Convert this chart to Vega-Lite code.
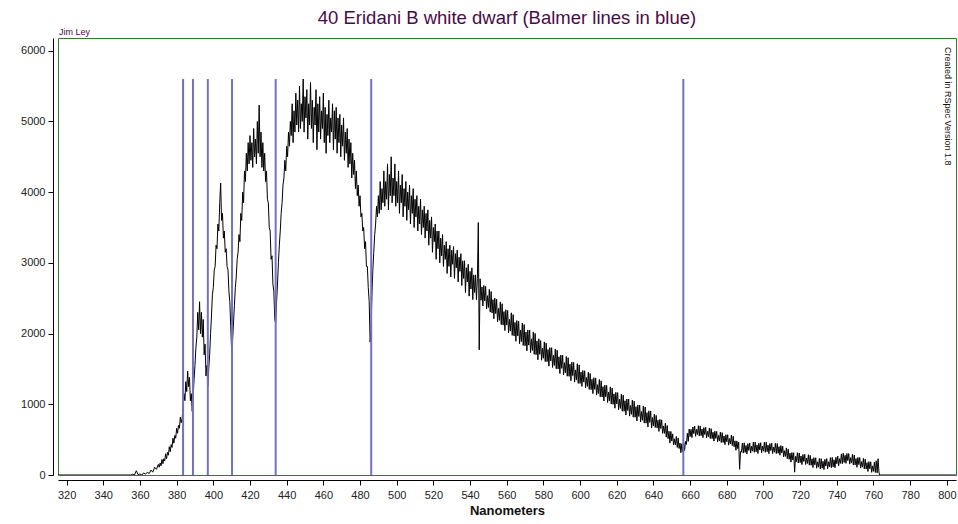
{
"$schema": "https://vega.github.io/schema/vega-lite/v6.json",
"width": 898, "height": 437,
"autosize": {"type": "none"},
"padding": {"left": 58, "top": 38, "right": 2, "bottom": 49},
"background": "white",
"title": {"text": "40 Eridani B white dwarf (Balmer lines in blue)", "font": "Liberation Sans", "fontSize": 18.5, "fontWeight": "normal", "color": "#4a0a48", "offset": 1, "anchor": "middle"},
"config": {
  "view": {"stroke": "#2f7a2f", "strokeWidth": 1},
  "axis": {"labelFont": "Liberation Sans", "labelFontSize": 11, "labelColor": "#222222", "domainColor": "#000000", "tickColor": "#000000", "tickSize": 5, "grid": false, "offset": 5, "titleFont": "Liberation Sans", "labelOverlap": false},
  "axisX": {"tickCount": 25, "labelOverlap": false, "labelSeparation": 0}
},
"datasets": {
"spec": [
{"nm":315,"f":0},{"nm":355,"f":0},{"nm":356,"f":10},{"nm":357,"f":0},{"nm":358,"f":60},{"nm":359,"f":5},{"nm":360,"f":15},{"nm":361,"f":0},{"nm":362,"f":30},{"nm":363,"f":10},{"nm":364,"f":40},{"nm":365,"f":20},{"nm":366,"f":70},{"nm":367,"f":40},{"nm":368,"f":110},{"nm":369,"f":80},
{"nm":370,"f":150},{"nm":370.5,"f":110},{"nm":371,"f":170},{"nm":371.5,"f":130},{"nm":372,"f":220},{"nm":372.5,"f":160},{"nm":373,"f":230},{"nm":373.5,"f":200},{"nm":374,"f":300},{"nm":374.5,"f":230},{"nm":375,"f":320},{"nm":375.5,"f":280},{"nm":376,"f":400},{"nm":376.5,"f":330},{"nm":377,"f":430},{"nm":377.5,"f":390},{"nm":378,"f":520},{"nm":378.5,"f":450},{"nm":379,"f":560},{"nm":379.5,"f":520},{"nm":380,"f":660},{"nm":380.5,"f":590},{"nm":381,"f":700},{"nm":381.5,"f":660},{"nm":382,"f":820},{"nm":382.5,"f":740},{"nm":383,"f":800},
{"nm":383.5,"f":980},{"nm":384,"f":1150},{"nm":384.5,"f":1050},{"nm":385,"f":1320},{"nm":385.5,"f":1180},{"nm":386,"f":1470},{"nm":386.5,"f":1250},{"nm":387,"f":1380},{"nm":387.5,"f":1050},{"nm":388,"f":1150},{"nm":388.5,"f":900},{"nm":389,"f":1100},{"nm":389.5,"f":1350},{"nm":390,"f":1550},{"nm":390.5,"f":1800},{"nm":391,"f":1950},{"nm":391.5,"f":2300},{"nm":392,"f":2050},{"nm":392.5,"f":2450},{"nm":393,"f":2000},{"nm":393.5,"f":2300},{"nm":394,"f":1950},{"nm":394.5,"f":2200},{"nm":395,"f":1700},{"nm":395.5,"f":1850},{"nm":396,"f":1400},{"nm":396.5,"f":1550},{"nm":397,"f":1250},{"nm":397.5,"f":1500},{"nm":398,"f":1700},{"nm":398.5,"f":2000},{"nm":399,"f":2250},{"nm":399.5,"f":2550},{"nm":400,"f":2650},{"nm":400.5,"f":2900},{"nm":401,"f":2950},{"nm":401.5,"f":3250},{"nm":402,"f":3200},{"nm":402.5,"f":3550},{"nm":403,"f":3450},{"nm":403.5,"f":3850},{"nm":404,"f":4130},{"nm":404.5,"f":3600},{"nm":405,"f":3700},{"nm":405.5,"f":3350},{"nm":406,"f":3450},{"nm":406.5,"f":3150},{"nm":407,"f":3200},{"nm":407.5,"f":2950},{"nm":408,"f":2900},{"nm":408.5,"f":2600},{"nm":409,"f":2450},{"nm":409.5,"f":2100},{"nm":410,"f":1750},{"nm":410.5,"f":1900},{"nm":411,"f":2150},{"nm":411.5,"f":2400},{"nm":412,"f":2650},{"nm":412.5,"f":2800},{"nm":413,"f":3050},{"nm":413.5,"f":3150},{"nm":414,"f":3400},{"nm":414.5,"f":3300},{"nm":415,"f":3700},{"nm":415.5,"f":3600},{"nm":416,"f":4000},{"nm":416.5,"f":3850},{"nm":417,"f":4300},{"nm":417.5,"f":4150},{"nm":418,"f":4550},{"nm":418.5,"f":4300},{"nm":419,"f":4700},{"nm":419.5,"f":4400},{"nm":420,"f":4800},{"nm":420.5,"f":4450},{"nm":421,"f":4700},{"nm":421.5,"f":4350},{"nm":422,"f":4900},{"nm":422.5,"f":4500},{"nm":423,"f":4750},{"nm":423.5,"f":4400},{"nm":424,"f":5000},{"nm":424.5,"f":4550},{"nm":425,"f":5230},{"nm":425.5,"f":4500},{"nm":426,"f":4850},{"nm":426.5,"f":4350},{"nm":427,"f":4700},{"nm":427.5,"f":4300},{"nm":428,"f":4550},{"nm":428.5,"f":4150},{"nm":429,"f":4300},{"nm":429.5,"f":3900},{"nm":430,"f":3850},{"nm":430.5,"f":3500},{"nm":431,"f":3450},{"nm":431.5,"f":3050},{"nm":432,"f":3100},{"nm":432.5,"f":2700},{"nm":433,"f":2600},{"nm":433.5,"f":2200},{"nm":434,"f":2150},{"nm":434.5,"f":2450},{"nm":435,"f":2700},{"nm":435.5,"f":3000},{"nm":436,"f":3250},{"nm":436.5,"f":3450},{"nm":437,"f":3700},{"nm":437.5,"f":3850},{"nm":438,"f":4100},{"nm":438.5,"f":4200},{"nm":439,"f":4450},{"nm":439.5,"f":4300},{"nm":440,"f":4650},{"nm":440.5,"f":4500},{"nm":441,"f":4850},{"nm":441.5,"f":4650},{"nm":442,"f":5000},{"nm":442.5,"f":4800},{"nm":443,"f":5250},{"nm":443.5,"f":4700},{"nm":444,"f":5150},{"nm":444.5,"f":4850},{"nm":445,"f":5400},{"nm":445.5,"f":4950},{"nm":446,"f":5300},{"nm":446.5,"f":4850},{"nm":447,"f":5500},{"nm":447.5,"f":4900},{"nm":448,"f":5250},{"nm":448.5,"f":5000},{"nm":449,"f":5600},{"nm":449.5,"f":4850},{"nm":450,"f":5350},{"nm":450.5,"f":5050},{"nm":451,"f":5450},{"nm":451.5,"f":4750},{"nm":452,"f":5250},{"nm":452.5,"f":4950},{"nm":453,"f":5550},{"nm":453.5,"f":4900},{"nm":454,"f":5300},{"nm":454.5,"f":4700},{"nm":455,"f":5200},{"nm":455.5,"f":4950},{"nm":456,"f":5450},{"nm":456.5,"f":4600},{"nm":457,"f":5250},{"nm":457.5,"f":4850},{"nm":458,"f":5350},{"nm":458.5,"f":4750},{"nm":459,"f":5150},{"nm":459.5,"f":4900},{"nm":460,"f":5400},{"nm":460.5,"f":4700},{"nm":461,"f":5200},{"nm":461.5,"f":4550},{"nm":462,"f":5100},{"nm":462.5,"f":4800},{"nm":463,"f":5300},{"nm":463.5,"f":4700},{"nm":464,"f":5050},{"nm":464.5,"f":4850},{"nm":465,"f":5250},{"nm":465.5,"f":4600},{"nm":466,"f":5150},{"nm":466.5,"f":4750},{"nm":467,"f":5200},{"nm":467.5,"f":4550},{"nm":468,"f":5050},{"nm":468.5,"f":4700},{"nm":469,"f":5100},{"nm":469.5,"f":4500},{"nm":470,"f":4950},{"nm":470.5,"f":4650},{"nm":471,"f":5050},{"nm":471.5,"f":4450},{"nm":472,"f":4850},{"nm":472.5,"f":4550},{"nm":473,"f":4900},{"nm":473.5,"f":4350},{"nm":474,"f":4750},{"nm":474.5,"f":4400},{"nm":475,"f":4700},{"nm":475.5,"f":4200},{"nm":476,"f":4550},{"nm":476.5,"f":4250},{"nm":477,"f":4450},{"nm":477.5,"f":4050},{"nm":478,"f":4300},{"nm":478.5,"f":3950},{"nm":479,"f":4100},{"nm":479.5,"f":3800},{"nm":480,"f":3950},{"nm":480.5,"f":3650},{"nm":481,"f":3700},{"nm":481.5,"f":3450},{"nm":482,"f":3500},{"nm":482.5,"f":3200},{"nm":483,"f":3300},{"nm":483.5,"f":2950},{"nm":484,"f":2950},{"nm":484.5,"f":2650},{"nm":485,"f":2450},{"nm":485.5,"f":1880},{"nm":486,"f":2050},{"nm":486.5,"f":2550},{"nm":487,"f":2900},{"nm":487.5,"f":3150},{"nm":488,"f":3400},{"nm":488.5,"f":3550},{"nm":489,"f":3800},{"nm":489.5,"f":3650},{"nm":490,"f":3950},{"nm":490.5,"f":3700},{"nm":491,"f":4150},{"nm":491.5,"f":3750},{"nm":492,"f":4050},{"nm":492.5,"f":3850},{"nm":493,"f":4300},{"nm":493.5,"f":3800},{"nm":494,"f":4150},{"nm":494.5,"f":3900},{"nm":495,"f":4400},{"nm":495.5,"f":3750},{"nm":496,"f":4250},{"nm":496.5,"f":3950},{"nm":497,"f":4500},{"nm":497.5,"f":3850},{"nm":498,"f":4200},{"nm":498.5,"f":3950},{"nm":499,"f":4400},{"nm":499.5,"f":3800},{"nm":500,"f":4150},{"nm":500.5,"f":3850},{"nm":501,"f":4300},{"nm":501.5,"f":3700},{"nm":502,"f":4100},{"nm":502.5,"f":3850},{"nm":503,"f":4250},{"nm":503.5,"f":3650},{"nm":504,"f":4050},{"nm":504.5,"f":3800},{"nm":505,"f":4150},{"nm":505.5,"f":3600},{"nm":506,"f":4000},{"nm":506.5,"f":3750},{"nm":507,"f":4100},{"nm":507.5,"f":3550},{"nm":508,"f":3950},{"nm":508.5,"f":3700},{"nm":509,"f":4050},{"nm":509.5,"f":3500},{"nm":510,"f":3900},{"nm":510.5,"f":3650},{"nm":511,"f":3950},{"nm":511.5,"f":3450},{"nm":512,"f":3800},{"nm":512.5,"f":3550},{"nm":513,"f":3900},{"nm":513.5,"f":3400},{"nm":514,"f":3750},{"nm":514.5,"f":3500},{"nm":515,"f":3800},{"nm":515.5,"f":3350},{"nm":516,"f":3700},{"nm":516.5,"f":3450},{"nm":517,"f":3750},{"nm":517.5,"f":3250},{"nm":518,"f":3600},{"nm":518.5,"f":3350},{"nm":519,"f":3650},{"nm":519.5,"f":3150},{"nm":520,"f":3500},{"nm":520.5,"f":3300},{"nm":521,"f":3550},{"nm":521.5,"f":3050},{"nm":522,"f":3450},{"nm":522.5,"f":3200},{"nm":523,"f":3450},{"nm":523.5,"f":3000},{"nm":524,"f":3350},{"nm":524.5,"f":3100},{"nm":525,"f":3400},{"nm":525.5,"f":2950},{"nm":526,"f":3250},{"nm":526.5,"f":3050},{"nm":527,"f":3300},{"nm":527.5,"f":2850},{"nm":528,"f":3200},{"nm":528.5,"f":2950},{"nm":529,"f":3250},{"nm":529.5,"f":2800},{"nm":530,"f":3180},{"nm":530.5,"f":2980},{"nm":531,"f":3230},{"nm":531.5,"f":2780},{"nm":532,"f":3130},{"nm":532.5,"f":2930},{"nm":533,"f":3180},{"nm":533.5,"f":2730},{"nm":534,"f":3080},{"nm":534.5,"f":2880},{"nm":535,"f":3130},{"nm":535.5,"f":2680},{"nm":536,"f":3030},{"nm":536.5,"f":2780},{"nm":537,"f":3030},{"nm":537.5,"f":2580},{"nm":538,"f":2930},{"nm":538.5,"f":2730},{"nm":539,"f":2980},{"nm":539.5,"f":2530},{"nm":540,"f":2880},{"nm":540.5,"f":2630},{"nm":541,"f":2930},{"nm":541.5,"f":2480},{"nm":542,"f":2830},{"nm":542.5,"f":2580},{"nm":543,"f":2830},{"nm":543.5,"f":2480},{"nm":544,"f":2780},{"nm":544.5,"f":3570},{"nm":545,"f":1770},
{"nm":545.5,"f":2775},{"nm":546,"f":2471},{"nm":546.5,"f":2660},{"nm":547,"f":2390},{"nm":547.5,"f":2681},{"nm":548,"f":2462},{"nm":548.5,"f":2668},{"nm":549,"f":2347},{"nm":549.5,"f":2536},{"nm":550,"f":2368},{"nm":550.5,"f":2625},{"nm":551,"f":2304},{"nm":551.5,"f":2595},{"nm":552,"f":2291},{"nm":552.5,"f":2480},{"nm":553,"f":2210},{"nm":553.5,"f":2501},{"nm":554,"f":2282},{"nm":554.5,"f":2488},{"nm":555,"f":2167},{"nm":555.5,"f":2356},{"nm":556,"f":2188},{"nm":556.5,"f":2447},{"nm":557,"f":2128},{"nm":557.5,"f":2422},{"nm":558,"f":2120},{"nm":558.5,"f":2311},{"nm":559,"f":2043},{"nm":559.5,"f":2337},{"nm":560,"f":2120},{"nm":560.5,"f":2328},{"nm":561,"f":2009},{"nm":561.5,"f":2201},{"nm":562,"f":2035},{"nm":562.5,"f":2294},{"nm":563,"f":1975},{"nm":563.5,"f":2269},{"nm":564,"f":1967},{"nm":564.5,"f":2158},{"nm":565,"f":1890},{"nm":565.5,"f":2184},{"nm":566,"f":1967},{"nm":566.5,"f":2175},{"nm":567,"f":1857},{"nm":567.5,"f":2051},{"nm":568,"f":1887},{"nm":568.5,"f":2148},{"nm":569,"f":1832},{"nm":569.5,"f":2128},{"nm":570,"f":1828},{"nm":570.5,"f":2022},{"nm":571,"f":1756},{"nm":571.5,"f":2052},{"nm":572,"f":1837},{"nm":572.5,"f":2048},{"nm":573,"f":1731},{"nm":573.5,"f":1925},{"nm":574,"f":1761},{"nm":574.5,"f":2023},{"nm":575,"f":1706},{"nm":575.5,"f":2002},{"nm":576,"f":1702},{"nm":576.5,"f":1896},{"nm":577,"f":1630},{"nm":577.5,"f":1926},{"nm":578,"f":1707},{"nm":578.5,"f":1902},{"nm":579,"f":1623},{"nm":579.5,"f":1795},{"nm":580,"f":1651},{"nm":580.5,"f":1883},{"nm":581,"f":1604},{"nm":581.5,"f":1866},{"nm":582,"f":1602},{"nm":582.5,"f":1774},{"nm":583,"f":1540},{"nm":583.5,"f":1802},{"nm":584,"f":1613},{"nm":584.5,"f":1800},{"nm":585,"f":1521},{"nm":585.5,"f":1693},{"nm":586,"f":1549},{"nm":586.5,"f":1781},{"nm":587,"f":1502},{"nm":587.5,"f":1764},{"nm":588,"f":1500},{"nm":588.5,"f":1672},{"nm":589,"f":1435},{"nm":589.5,"f":1697},{"nm":590,"f":1508},{"nm":590.5,"f":1695},{"nm":591,"f":1416},{"nm":591.5,"f":1588},{"nm":592,"f":1444},{"nm":592.5,"f":1676},{"nm":593,"f":1397},{"nm":593.5,"f":1659},{"nm":594,"f":1395},{"nm":594.5,"f":1567},{"nm":595,"f":1333},{"nm":595.5,"f":1595},{"nm":596,"f":1406},{"nm":596.5,"f":1593},{"nm":597,"f":1314},{"nm":597.5,"f":1486},{"nm":598,"f":1342},{"nm":598.5,"f":1574},{"nm":599,"f":1295},{"nm":599.5,"f":1557},{"nm":600,"f":1295},{"nm":600.5,"f":1456},{"nm":601,"f":1253},{"nm":601.5,"f":1478},{"nm":602,"f":1314},{"nm":602.5,"f":1474},{"nm":603,"f":1232},{"nm":603.5,"f":1379},{"nm":604,"f":1254},{"nm":604.5,"f":1453},{"nm":605,"f":1211},{"nm":605.5,"f":1436},{"nm":606,"f":1207},{"nm":606.5,"f":1354},{"nm":607,"f":1151},{"nm":607.5,"f":1376},{"nm":608,"f":1212},{"nm":608.5,"f":1372},{"nm":609,"f":1130},{"nm":609.5,"f":1277},{"nm":610,"f":1152},{"nm":610.5,"f":1351},{"nm":611,"f":1106},{"nm":611.5,"f":1331},{"nm":612,"f":1102},{"nm":612.5,"f":1249},{"nm":613,"f":1046},{"nm":613.5,"f":1271},{"nm":614,"f":1107},{"nm":614.5,"f":1267},{"nm":615,"f":1025},{"nm":615.5,"f":1172},{"nm":616,"f":1047},{"nm":616.5,"f":1246},{"nm":617,"f":1004},{"nm":617.5,"f":1229},{"nm":618,"f":1000},{"nm":618.5,"f":1147},{"nm":619,"f":944},{"nm":619.5,"f":1169},{"nm":620,"f":1005},{"nm":620.5,"f":1165},{"nm":621,"f":923},{"nm":621.5,"f":1070},{"nm":622,"f":942},{"nm":622.5,"f":1143},{"nm":623,"f":902},{"nm":623.5,"f":1129},{"nm":624,"f":901},{"nm":624.5,"f":1050},{"nm":625,"f":848},{"nm":625.5,"f":1075},{"nm":626,"f":912},{"nm":626.5,"f":1074},{"nm":627,"f":833},{"nm":627.5,"f":982},{"nm":628,"f":858},{"nm":628.5,"f":1059},{"nm":629,"f":818},{"nm":629.5,"f":1045},{"nm":630,"f":817},{"nm":630.5,"f":966},{"nm":631,"f":764},{"nm":631.5,"f":991},{"nm":632,"f":828},{"nm":632.5,"f":990},{"nm":633,"f":749},{"nm":633.5,"f":898},{"nm":634,"f":774},{"nm":634.5,"f":975},{"nm":635,"f":734},{"nm":635.5,"f":961},{"nm":636,"f":733},{"nm":636.5,"f":882},{"nm":637,"f":680},{"nm":637.5,"f":907},{"nm":638,"f":744},{"nm":638.5,"f":906},{"nm":639,"f":665},{"nm":639.5,"f":814},{"nm":640,"f":692},{"nm":640.5,"f":861},{"nm":641,"f":672},{"nm":641.5,"f":843},{"nm":642,"f":664},{"nm":642.5,"f":775},{"nm":643,"f":616},{"nm":643.5,"f":787},{"nm":644,"f":658},{"nm":644.5,"f":779},{"nm":645,"f":590},{"nm":645.5,"f":694},{"nm":646,"f":588},{"nm":646.5,"f":732},{"nm":647,"f":536},{"nm":647.5,"f":700},{"nm":648,"f":514},{"nm":648.5,"f":618},{"nm":649,"f":452},{"nm":649.5,"f":616},{"nm":650,"f":480},{"nm":650.5,"f":581},{"nm":651,"f":426},{"nm":651.5,"f":511},{"nm":652,"f":428},{"nm":652.5,"f":545},{"nm":653,"f":390},{"nm":653.5,"f":523},{"nm":654,"f":374},{"nm":654.5,"f":452},{"nm":655,"f":315},{"nm":655.5,"f":442},{"nm":656,"f":328},{"nm":656.5,"f":462},{"nm":657,"f":348},{"nm":657.5,"f":474},{"nm":658,"f":432},{"nm":658.5,"f":590},{"nm":659,"f":476},{"nm":659.5,"f":650},{"nm":660,"f":544},{"nm":660.5,"f":645},{"nm":661,"f":530},{"nm":661.5,"f":679},{"nm":662,"f":586},{"nm":662.5,"f":692},{"nm":663,"f":548},{"nm":663.5,"f":644},{"nm":664,"f":572},{"nm":664.5,"f":698},{"nm":665,"f":552},{"nm":665.5,"f":694},{"nm":666,"f":556},{"nm":666.5,"f":650},{"nm":667,"f":528},{"nm":667.5,"f":670},{"nm":668,"f":572},{"nm":668.5,"f":674},{"nm":669,"f":528},{"nm":669.5,"f":619},{"nm":670,"f":542},{"nm":670.5,"f":665},{"nm":671,"f":516},{"nm":671.5,"f":655},{"nm":672,"f":514},{"nm":672.5,"f":605},{"nm":673,"f":480},{"nm":673.5,"f":619},{"nm":674,"f":518},{"nm":674.5,"f":617},{"nm":675,"f":468},{"nm":675.5,"f":559},{"nm":676,"f":482},{"nm":676.5,"f":606},{"nm":677,"f":459},{"nm":677.5,"f":599},{"nm":678,"f":460},{"nm":678.5,"f":552},{"nm":679,"f":429},{"nm":679.5,"f":569},{"nm":680,"f":469},{"nm":680.5,"f":570},{"nm":681,"f":422},{"nm":681.5,"f":515},{"nm":682,"f":439},{"nm":682.5,"f":564},{"nm":683,"f":416},{"nm":683.5,"f":548},{"nm":684,"f":399},{"nm":684.5,"f":483},{"nm":685,"f":350},{"nm":685.5,"f":482},{"nm":686,"f":373},{"nm":686.5,"f":465},{"nm":687,"f":80},{"nm":687.5,"f":330},{"nm":688,"f":324},{"nm":688.5,"f":453},{"nm":689,"f":310},{"nm":689.5,"f":455},{"nm":690,"f":320},{"nm":690.5,"f":417},{"nm":691,"f":298},{"nm":691.5,"f":443},{"nm":692,"f":348},{"nm":692.5,"f":453},{"nm":693,"f":310},{"nm":693.5,"f":407},{"nm":694,"f":337},{"nm":694.5,"f":465},{"nm":695,"f":321},{"nm":695.5,"f":465},{"nm":696,"f":329},{"nm":696.5,"f":425},{"nm":697,"f":305},{"nm":697.5,"f":449},{"nm":698,"f":353},{"nm":698.5,"f":457},{"nm":699,"f":313},{"nm":699.5,"f":409},{"nm":700,"f":337},{"nm":700.5,"f":465},{"nm":701,"f":321},{"nm":701.5,"f":465},{"nm":702,"f":329},{"nm":702.5,"f":423},{"nm":703,"f":301},{"nm":703.5,"f":444},{"nm":704,"f":346},{"nm":704.5,"f":448},{"nm":705,"f":302},{"nm":705.5,"f":396},{"nm":706,"f":323},{"nm":706.5,"f":449},{"nm":707,"f":303},{"nm":707.5,"f":445},{"nm":708,"f":307},{"nm":708.5,"f":402},{"nm":709,"f":280},{"nm":709.5,"f":416},{"nm":710,"f":312},{"nm":710.5,"f":407},{"nm":711,"f":255},{"nm":711.5,"f":343},{"nm":712,"f":263},{"nm":712.5,"f":383},{"nm":713,"f":230},{"nm":713.5,"f":366},{"nm":714,"f":222},{"nm":714.5,"f":310},{"nm":715,"f":182},{"nm":715.5,"f":317},{"nm":716,"f":213},{"nm":716.5,"f":315},{"nm":717,"f":40},{"nm":717.5,"f":264},{"nm":718,"f":190},{"nm":718.5,"f":316},{"nm":719,"f":170},{"nm":719.5,"f":312},{"nm":720,"f":175},{"nm":720.5,"f":269},{"nm":721,"f":147},{"nm":721.5,"f":289},{"nm":722,"f":191},{"nm":722.5,"f":294},{"nm":723,"f":148},{"nm":723.5,"f":240},{"nm":724,"f":163},{"nm":724.5,"f":287},{"nm":725,"f":139},{"nm":725.5,"f":278},{"nm":726,"f":138},{"nm":726.5,"f":229},{"nm":727,"f":105},{"nm":727.5,"f":245},{"nm":728,"f":144},{"nm":728.5,"f":244},{"nm":729,"f":96},{"nm":729.5,"f":187},{"nm":730,"f":111},{"nm":730.5,"f":234},{"nm":731,"f":86},{"nm":731.5,"f":231},{"nm":732,"f":97},{"nm":732.5,"f":194},{"nm":733,"f":76},{"nm":733.5,"f":221},{"nm":734,"f":127},{"nm":734.5,"f":232},{"nm":735,"f":89},{"nm":735.5,"f":187},{"nm":736,"f":116},{"nm":736.5,"f":246},{"nm":737,"f":103},{"nm":737.5,"f":249},{"nm":738,"f":114},{"nm":738.5,"f":215},{"nm":739,"f":101},{"nm":739.5,"f":250},{"nm":740,"f":159},{"nm":740.5,"f":269},{"nm":741,"f":130},{"nm":741.5,"f":231},{"nm":742,"f":165},{"nm":742.5,"f":298},{"nm":743,"f":159},{"nm":743.5,"f":309},{"nm":744,"f":178},{"nm":744.5,"f":279},{"nm":745,"f":165},{"nm":745.5,"f":304},{"nm":746,"f":204},{"nm":746.5,"f":303},{"nm":747,"f":154},{"nm":747.5,"f":245},{"nm":748,"f":169},{"nm":748.5,"f":292},{"nm":749,"f":143},{"nm":749.5,"f":283},{"nm":750,"f":142},{"nm":750.5,"f":233},{"nm":751,"f":109},{"nm":751.5,"f":248},{"nm":752,"f":147},{"nm":752.5,"f":247},{"nm":753,"f":98},{"nm":753.5,"f":189},{"nm":754,"f":112},{"nm":754.5,"f":235},{"nm":755,"f":86},{"nm":755.5,"f":225},{"nm":756,"f":84},{"nm":756.5,"f":175},{"nm":757,"f":50},{"nm":757.5,"f":189},{"nm":758,"f":88},{"nm":758.5,"f":187},{"nm":759,"f":38},{"nm":759.5,"f":129},{"nm":760,"f":52},{"nm":760.5,"f":180},{"nm":761,"f":36},{"nm":761.5,"f":200},{"nm":762,"f":30},{"nm":762.5,"f":230},{"nm":763,"f":40},{"nm":763.3,"f":0},{"nm":805,"f":0}
],
"balmer": [{"nm":383.5},{"nm":388.9},{"nm":397.0},{"nm":410.2},{"nm":434.0},{"nm":486.1},{"nm":656.3}],
"notes": [{"label":"Jim Ley"}],
"credit": [{"label":"Created in RSpec Version 1.8"}]
},
"layer": [
  {
    "data": {"name": "spec"},
    "mark": {"type": "line", "color": "#000000", "strokeWidth": 1, "clip": true},
    "encoding": {
      "x": {"field": "nm", "type": "quantitative", "scale": {"domain": [315.3, 805], "nice": false, "zero": false},
            "axis": {"values": [320,340,360,380,400,420,440,460,480,500,520,540,560,580,600,620,640,660,680,700,720,740,760,780,800], "format": "d", "title": "Nanometers", "titleFontSize": 13, "titleFontWeight": "bold", "titleColor": "#111111", "titlePadding": 4, "labelPadding": 4, "labelFlush": false, "labelOverlap": false, "labelSeparation": 0, "labelBound": false, "tickCount": 25}},
      "y": {"field": "f", "type": "quantitative", "scale": {"domain": [0, 6180], "nice": false},
            "axis": {"values": [0,500,1000,1500,2000,2500,3000,3500,4000,4500,5000,5500,6000], "format": "d", "title": null, "labelPadding": 3, "labelOverlap": false}}
    }
  },
  {
    "data": {"name": "balmer"},
    "mark": {"type": "rule", "color": "#7272c0", "strokeWidth": 2},
    "encoding": {
      "x": {"field": "nm", "type": "quantitative",
            "axis": {"values": [320,340,360,380,400,420,440,460,480,500,520,540,560,580,600,620,640,660,680,700,720,740,760,780,800], "format": "d", "title": "Nanometers", "titleFontSize": 13, "titleFontWeight": "bold", "titleColor": "#111111", "titlePadding": 4, "labelPadding": 4, "labelFlush": false, "labelOverlap": false, "labelSeparation": 0, "labelBound": false, "tickCount": 25}},
      "y": {"datum": 0},
      "y2": {"datum": 5600}
    }
  },
  {
    "data": {"name": "notes"},
    "mark": {"type": "text", "align": "left", "baseline": "bottom", "dy": -1, "dx": 1, "font": "Liberation Sans", "fontSize": 9, "color": "#4a0a48"},
    "encoding": {"x": {"datum": 315.3}, "y": {"datum": 6180}, "text": {"field": "label"}}
  },
  {
    "data": {"name": "credit"},
    "mark": {"type": "text", "align": "left", "baseline": "middle", "angle": 90, "dx": 9, "font": "Liberation Sans", "fontSize": 9, "color": "#111111"},
    "encoding": {"x": {"datum": 800.6}, "y": {"datum": 6180}, "text": {"field": "label"}}
  }
]
}
